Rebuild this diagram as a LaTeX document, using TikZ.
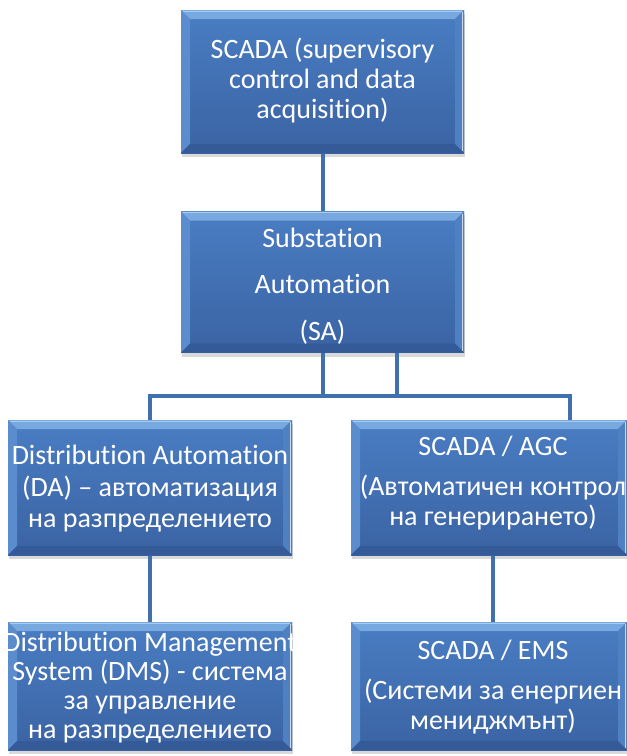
\documentclass[tikz,border=0pt]{standalone}
\usepackage{fontspec}
\setmainfont{Carlito}[Ligatures=NoCommon]
\usetikzlibrary{backgrounds}
\definecolor{boxtop}{HTML}{4A7DC3}
\definecolor{boxbot}{HTML}{3A63A3}
\definecolor{bevT}{HTML}{78A8E0}
\definecolor{bevL}{HTML}{5B8DCE}
\definecolor{bevR}{HTML}{4F80C2}
\definecolor{bevB}{HTML}{345B98}
\definecolor{conncol}{HTML}{4170AE}
\newcommand{\bw}{9}
\tikzset{
  bevbox/.style={rectangle, inner sep=0pt, minimum width=#1, top color=boxtop, bottom color=boxbot,
    path picture={
      \fill[bevT] (path picture bounding box.north west) -- (path picture bounding box.north east)
        -- ([shift={(-\bw,\bw)}]path picture bounding box.north east) -- ([shift={(\bw,\bw)}]path picture bounding box.north west) -- cycle;
      \fill[bevL] (path picture bounding box.north west) -- ([shift={(\bw,\bw)}]path picture bounding box.north west)
        -- ([shift={(\bw,-\bw)}]path picture bounding box.south west) -- (path picture bounding box.south west) -- cycle;
      \fill[bevR] (path picture bounding box.north east) -- ([shift={(-\bw,\bw)}]path picture bounding box.north east)
        -- ([shift={(-\bw,-\bw)}]path picture bounding box.south east) -- (path picture bounding box.south east) -- cycle;
      \fill[bevB] (path picture bounding box.south west) -- ([shift={(\bw,-\bw)}]path picture bounding box.south west)
        -- ([shift={(-\bw,-\bw)}]path picture bounding box.south east) -- (path picture bounding box.south east) -- cycle;
      \draw[white, opacity=0.7, line width=1.2pt] ([shift={(-1.5,2)}]path picture bounding box.north east) -- ([shift={(-1.5,-2)}]path picture bounding box.south east);
      \draw[bevT!60!white, line width=1pt] ([shift={(2,1)}]path picture bounding box.north west) -- ([shift={(-2,1)}]path picture bounding box.north east);
    }},
  boxtext/.style={text=white, align=center, font=\fontsize{28}{30}\selectfont, inner sep=0pt},
  conn/.style={draw=conncol, line width=4pt},
  shad/.style={fill=black!15}
}
\begin{document}
\begin{tikzpicture}[x=1pt, y=-1pt]
\useasboundingbox (0,0) rectangle (627,756);
\clip (0,0) rectangle (627,756);

% boxes
\node[bevbox=283pt, minimum height=143pt] (top) at (322.5,81.5) {};
\node[bevbox=283pt, minimum height=141pt] (sa) at (322.5,282) {};
\node[bevbox=284pt, minimum height=135pt] (da) at (150,487.5) {};
\node[bevbox=276pt, minimum height=135pt] (agc) at (489,487.5) {};
\node[bevbox=284pt, minimum height=128pt] (dms) at (150,686) {};
\node[bevbox=276pt, minimum height=128pt] (ems) at (489,686) {};

% texts
\node[boxtext] (ttop) at (322.5,81) {SCADA (supervisory\\control and data\\acquisition)};
\node[boxtext] (tsa) at (322.5,286) {Substation\\[16.7pt]Automation\\[16.7pt](SA)};
\node[boxtext, font=\fontsize{28}{31.5}\selectfont] (tda) at (150,489) {Distribution Automation\\(DA) – автоматизация\\на разпределението};
\node[boxtext] (tagc) at (493,483) {SCADA / AGC\\[10pt](Автоматичен контрол\\на генерирането)};
\node[boxtext, font=\fontsize{28}{29}\selectfont] (tdms) at (150,688) {Distribution Management\\System (DMS) - система\\за управление\\на разпределението};
\node[boxtext] (tems) at (493,687) {SCADA / EMS\\[10pt](Системи за енергиен\\мениджмънт)};

% connector coordinates
\coordinate (busL) at (150,396);
\coordinate (busR) at (570,396);
\coordinate (j2) at (397,396);
\coordinate (rc) at (493,0);

\begin{pgfonlayer}{background}
\fill[white] (0,0) rectangle (627,756);
\foreach \n in {top,sa,da,agc,dms,ems}{
  \fill[shad] ([shift={(1,4)}]\n.south west) rectangle ([shift={(1,4)}]\n.north east);
}
\draw[conn] (top.south) -- (sa.north);
\draw[conn] (sa.south) -- (sa.south |- busL);
\draw[conn] (sa.south -| j2) -- (j2);
\draw[conn, line cap=rect] (busL) -- (busR);
\draw[conn] (busL) -- (da.north);
\draw[conn] (busR) -- (agc.north -| busR);
\draw[conn] (da.south) -- (dms.north);
\draw[conn] (agc.south -| rc) -- (ems.north -| rc);
\end{pgfonlayer}
\end{tikzpicture}
\end{document}
